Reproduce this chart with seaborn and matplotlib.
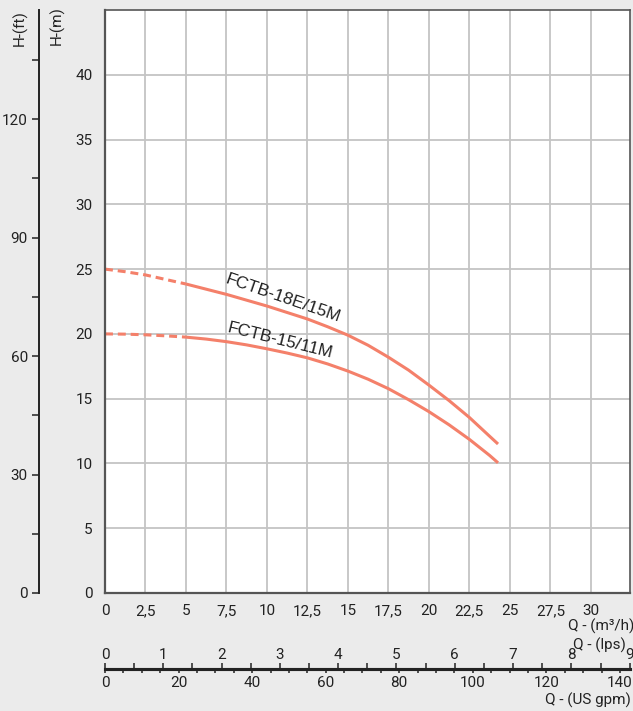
import numpy as np
import pandas as pd
import matplotlib
matplotlib.use("Agg")
import matplotlib.pyplot as plt
from matplotlib.ticker import MultipleLocator, FixedLocator, FuncFormatter
import seaborn as sns

# flow (m3/h) and head (m)
flow = [0, 1.25, 2.5, 3.75, 5, 6.25, 7.5, 8.75, 10, 11.25, 12.5, 13.75,
        15, 16.25, 17.5, 18.75, 20, 21.25, 22.5, 23.75, 24.27]
head_18e = [25.0, 24.8, 24.55, 24.2, 23.85, 23.45, 23.05, 22.6, 22.15, 21.65, 21.15, 20.55,
            19.9, 19.12, 18.2, 17.2, 16.05, 14.85, 13.55, 12.1, 11.5]
head_15 = [20.0, 19.98, 19.93, 19.85, 19.75, 19.6, 19.4, 19.15, 18.85, 18.52, 18.15, 17.68,
           17.13, 16.5, 15.77, 14.92, 14.0, 12.98, 11.86, 10.62, 10.05]
pumps = ["FCTB-18E/15M", "FCTB-15/11M"]
dashed_until = 5  # left part of each curve is drawn dashed

x_ticks = np.arange(0, 30.1, 2.5)
y_ticks = np.arange(0, 40.1, 5)
ft_ticks = [0, 30, 60, 90, 120]
lps_ticks = list(range(0, 10))
gpm_ticks = [0, 20, 40, 60, 80, 100, 120, 140]

M_TO_FT = 3.2808
M3H_TO_LPS = 1 / 3.6
M3H_TO_GPM = 4.4029

line_color = "#F4806A"
bg = "#EBEBEB"
txt = "#222222"

sns.set_theme(style="white")
plt.rcParams["font.family"] = ["Roboto", "DejaVu Sans"]
plt.rcParams["text.color"] = txt
plt.rcParams["xtick.color"] = "#333333"
plt.rcParams["ytick.color"] = "#333333"
plt.rcParams["xtick.labelcolor"] = txt
plt.rcParams["ytick.labelcolor"] = txt

rows = []
for name, heads in zip(pumps, [head_18e, head_15]):
    for q, h in zip(flow, heads):
        rows.append({"pump": name, "Q": q, "H": h})
df = pd.DataFrame(rows)

fig = plt.figure(figsize=(6.33, 7.11), dpi=100, facecolor=bg)
W, H = 633, 711
left, right, bottom, top = 105, 630, 593, 10
ax = fig.add_axes([left / W, 1 - bottom / H, (right - left) / W, (bottom - top) / H])
ax.set_facecolor("white")

for name in pumps:
    sub = df[df["pump"] == name]
    part_a = sub[sub["Q"] <= dashed_until]
    part_b = sub[sub["Q"] >= dashed_until]
    sns.lineplot(data=part_a, x="Q", y="H", ax=ax, color=line_color, lw=2.2,
                 linestyle=(0, (2.6, 1.6)), sort=True, estimator=None)
    sns.lineplot(data=part_b, x="Q", y="H", ax=ax, color=line_color, lw=2.2,
                 sort=True, estimator=None, solid_capstyle="butt", solid_joinstyle="round")

ax.set_xlim(0, 32.42)
ax.set_ylim(0, 45)
ax.set_xticks(x_ticks)
ax.set_yticks(y_ticks)
ax.xaxis.set_major_formatter(FuncFormatter(lambda v, p: f"{v:g}".replace(".", ",")))
ax.tick_params(axis="both", direction="out", length=5, width=1.2, labelsize=11, pad=3)
ax.tick_params(axis="y", pad=4)
ax.grid(True, color="#C4C4C4", lw=1.3)
ax.set_xlabel("")
ax.set_ylabel("")
for s in ax.spines.values():
    s.set_color("#555555")
    s.set_linewidth(1.2)
ax.spines["left"].set_linewidth(1.6)
ax.spines["bottom"].set_linewidth(1.6)

# curve labels
ax.text(11.0, 22.75, pumps[0], rotation=-19, ha="center", va="center",
        fontsize=12.5, family=["Liberation Sans", "DejaVu Sans"], color=txt)
ax.text(10.8, 19.5, pumps[1], rotation=-14, ha="center", va="center",
        fontsize=12.5, family=["Liberation Sans", "DejaVu Sans"], color=txt)

# head in feet, on its own spine to the left
ax_ft = ax.secondary_yaxis(-(left - 39) / (right - left),
                           functions=(lambda m: m * M_TO_FT, lambda f: f / M_TO_FT))
ax_ft.yaxis.set_major_locator(FixedLocator(ft_ticks))
ax_ft.yaxis.set_minor_locator(FixedLocator([15, 45, 75, 105, 135]))
ax_ft.tick_params(which="both", direction="out", length=5, width=1.2, labelsize=11, pad=3)
ax_ft.spines["left"].set_color("#222222")
ax_ft.spines["left"].set_linewidth(1.4)

# flow in lps (above) and US gpm (below) on a shared line
loc = -(669 - bottom) / (bottom - top)
ax_lps = ax.secondary_xaxis(loc, functions=(lambda q: q * M3H_TO_LPS, lambda l: l / M3H_TO_LPS))
ax_lps.set_alignment("top")
ax_lps.xaxis.set_major_locator(FixedLocator(lps_ticks))
ax_lps.xaxis.set_minor_locator(MultipleLocator(0.5))
ax_lps.tick_params(which="both", direction="out", length=4, width=1.2, labelsize=11, pad=1)
ax_lps.spines["top"].set_color("#222222")
ax_lps.spines["top"].set_linewidth(2.2)

ax_gpm = ax.secondary_xaxis(loc, functions=(lambda q: q * M3H_TO_GPM, lambda g: g / M3H_TO_GPM))
ax_gpm.set_alignment("bottom")
ax_gpm.xaxis.set_major_locator(FixedLocator(gpm_ticks))
ax_gpm.xaxis.set_minor_locator(MultipleLocator(5))
ax_gpm.tick_params(which="major", direction="out", length=3, width=1.2, labelsize=11, pad=2)
ax_gpm.tick_params(which="minor", direction="out", length=3, width=1.2)
ax_gpm.spines["bottom"].set_color("#222222")
ax_gpm.spines["bottom"].set_linewidth(2.2)

# axis titles
fig.text(20 / W, 1 - 28 / H, "H-(ft)", rotation=90, ha="center", va="center", fontsize=11)
fig.text(57 / W, 1 - 26 / H, "H-(m)", rotation=90, ha="center", va="center", fontsize=11)
fig.text(634 / W, 1 - 626 / H, "Q - (m³/h)", ha="right", va="center", fontsize=11)
fig.text(626 / W, 1 - 645 / H, "Q - (lps)", ha="right", va="center", fontsize=11)
fig.text(631 / W, 1 - 700 / H, "Q - (US gpm)", ha="right", va="center", fontsize=11)

fig.savefig("out.png", dpi=100, facecolor=bg)
